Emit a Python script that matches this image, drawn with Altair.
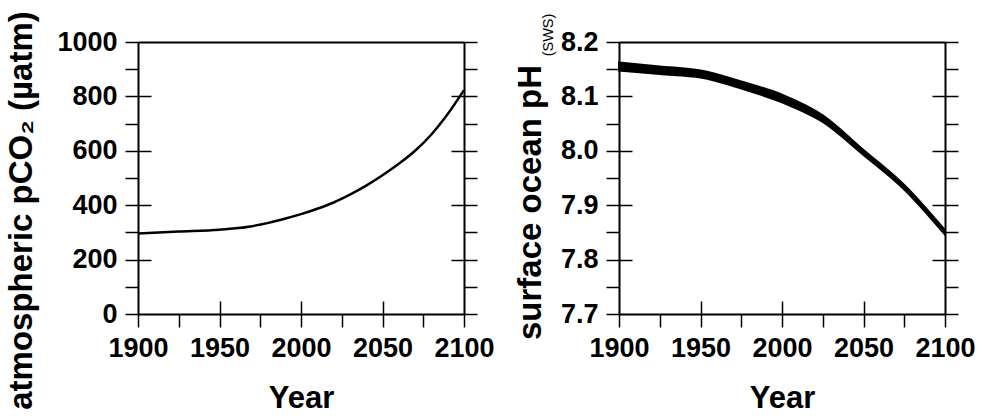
import altair as alt
import pandas as pd

# ---- data ----
years_co2 = [1900, 1925, 1950, 1960, 1970, 1980, 1990, 2000, 2010, 2020,
             2030, 2040, 2050, 2060, 2070, 2080, 2090, 2100]
co2 = [296, 303, 310, 315, 323, 335, 350, 367, 387, 410,
       439, 472, 510, 552, 600, 660, 735, 823]

years_ph = [1900, 1925, 1950, 1975, 2000, 2025, 2050, 2075, 2100]
ph_upper = [8.1625, 8.155, 8.1475, 8.1275, 8.103, 8.065, 8.0015, 7.937, 7.854]
ph_lower = [8.1475, 8.141, 8.1345, 8.1145, 8.089, 8.053, 7.9925, 7.929, 7.846]

x_ticks = [1900, 1925, 1950, 1975, 2000, 2025, 2050, 2075, 2100]
x_major_inner = [1950, 2000, 2050]
co2_ticks = [0, 100, 200, 300, 400, 500, 600, 700, 800, 900, 1000]
co2_major_inner = [200, 400, 600, 800]
ph_ticks = [7.7, 7.75, 7.8, 7.85, 7.9, 7.95, 8.0, 8.05, 8.1, 8.15, 8.2]
ph_major_inner = [7.8, 7.9, 8.0, 8.1]

FONT = "Liberation Sans"
W, H = 326, 272

co2_df = pd.DataFrame({"Year": years_co2, "pCO2": co2})
ph_df = pd.DataFrame({"Year": years_ph, "upper": ph_upper, "lower": ph_lower})

BASE = dict(domainColor="black", tickColor="black", labelColor="black",
            titleColor="black", domainWidth=2, tickWidth=1.5, grid=False,
            labelFont=FONT, titleFont=FONT, labelFontWeight="bold",
            titleFontWeight="bold", labelFontSize=27, titleFontSize=31,
            labelOverlap=False, labelFlush=False)


def ax(**kw):
    d = dict(BASE)
    d.update(kw)
    return alt.Axis(**d)


def panel(df, ycol, yscale, yticks, yinner, ytitle, ytx, yty, ylabexpr, main_mark,
          y2col=None, extra=None):
    xs = alt.Scale(domain=[1900, 2100], nice=False, zero=False)
    enc = dict(
        x=alt.X("Year:Q", scale=xs,
                axis=ax(orient="bottom", values=x_ticks, tickSize=13, format="d",
                        labelExpr="datum.value % 50 == 0 ? datum.label : ''",
                        labelPadding=8, title="Year", titlePadding=22)),
        y=alt.Y(f"{ycol}:Q", scale=yscale,
                axis=ax(orient="left", values=yticks, tickSize=13,
                        labelExpr=ylabexpr, labelPadding=8, title=ytitle,
                        titleX=ytx, titleY=yty, titleFontSize=33)),
    )
    if y2col:
        enc["y2"] = alt.Y2(f"{y2col}:Q")
    main = main_mark.encode(**enc)

    ghost = alt.Chart(df).mark_line(strokeOpacity=0)
    inner = ghost.encode(
        x=alt.X("Year:Q", scale=xs,
                axis=ax(orient="top", offset=-H, values=x_major_inner, tickSize=13,
                        domain=False, labels=False, title=None)),
        y=alt.Y(f"{ycol}:Q", scale=yscale,
                axis=ax(orient="right", offset=-W, values=yinner, tickSize=13,
                        domain=False, labels=False, title=None)),
    )
    frame = ghost.encode(
        x=alt.X("Year:Q", scale=xs,
                axis=ax(orient="top", ticks=False, labels=False, title=None)),
        y=alt.Y(f"{ycol}:Q", scale=yscale,
                axis=ax(orient="right", values=yticks, tickSize=13,
                        labels=False, title=None)),
    )
    inner_r = ghost.encode(
        x=alt.X("Year:Q", scale=xs, axis=None),
        y=alt.Y(f"{ycol}:Q", scale=yscale,
                axis=ax(orient="left", offset=-W, values=yinner, tickSize=13,
                        domain=False, labels=False, title=None)),
    )
    layers = [main, inner, frame, inner_r]
    if extra is not None:
        layers.append(extra)
    return alt.layer(*layers).resolve_axis(x="independent", y="independent").properties(
        width=W, height=H)


left = panel(
    co2_df, "pCO2",
    alt.Scale(domain=[0, 1000], nice=False, zero=False),
    co2_ticks, co2_major_inner,
    "atmospheric pCO₂ (µatm)", -100, 168,
    "datum.value % 200 == 0 ? format(datum.value, 'd') : ''",
    alt.Chart(co2_df).mark_line(color="black", strokeWidth=2.5, interpolate="monotone"),
)

sub_df = pd.DataFrame({"t": ["(SWS)"]})
sub = alt.Chart(sub_df).mark_text(angle=270, font=FONT, fontSize=14.5, color="black",
                                  align="center", baseline="middle").encode(
    text="t:N", x=alt.value(-70), y=alt.value(-7))

right = panel(
    ph_df, "upper",
    alt.Scale(domain=[7.7, 8.2], nice=False, zero=False),
    ph_ticks, ph_major_inner,
    "surface ocean pH", -72, 160,
    "abs(datum.value*10 - round(datum.value*10)) < 0.001 ? format(datum.value, '.1f') : ''",
    alt.Chart(ph_df).mark_area(color="black", stroke="black", strokeWidth=2,
                               interpolate="monotone"),
    y2col="lower", extra=sub,
)

chart = alt.hconcat(left, right, spacing=18).properties(
    padding={"left": 4, "top": 10, "right": 5, "bottom": 4}
).configure_view(stroke=None).configure(background="white")

chart.save("out.html", embed_options={"renderer": "svg", "actions": False})
